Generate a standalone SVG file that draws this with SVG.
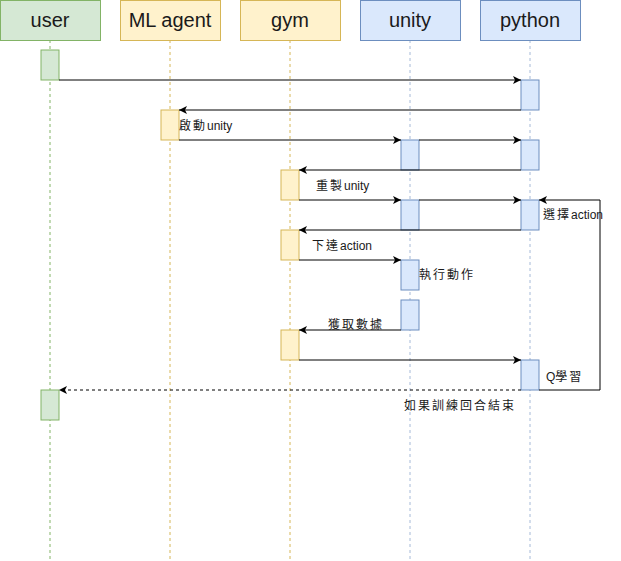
<svg xmlns="http://www.w3.org/2000/svg" width="621" height="561" viewBox="0 0 621 561">
<defs>
<marker id="ah" markerWidth="10" markerHeight="10" refX="8" refY="4" orient="auto" markerUnits="userSpaceOnUse">
<path d="M0,0 L8,4 L0,8 L2,4 Z" fill="#000"/>
</marker>
<style>
.hd{font-family:"Liberation Sans",Arial,sans-serif;font-size:20px;fill:#1a1a1a;text-anchor:middle}
.lb{font-family:"Liberation Sans","Noto Sans CJK TC",sans-serif;font-size:12px;fill:#1a1a1a}
.c{letter-spacing:2px}
.g{fill:#d5e8d4;stroke:#82b366}
.y{fill:#fff2cc;stroke:#d6b656}
.b{fill:#dae8fc;stroke:#6c8ebf}
.ll{fill:none;stroke-dasharray:3 3}
.ar{fill:none;stroke:#000;stroke-width:1;marker-end:url(#ah)}
</style>
</defs>
<rect width="621" height="561" fill="#fff"/>
<g id="user">
<line class="ll" x1="50" y1="40" x2="50" y2="560" stroke="#82b366"/>
<rect class="g" x="0.5" y="0.5" width="100" height="40"/>
<text class="hd" x="50" y="27">user</text>
<rect class="g" x="41" y="50" width="18" height="30"/>
<rect class="g" x="41" y="390" width="18" height="30"/>
</g>
<g id="mlagent">
<line class="ll" x1="170" y1="40" x2="170" y2="560" stroke="#d6b656"/>
<rect class="y" x="120.5" y="0.5" width="100" height="40"/>
<text class="hd" x="170" y="27">ML agent</text>
<rect class="y" x="161" y="110" width="18" height="30"/>
</g>
<g id="gym">
<line class="ll" x1="290" y1="40" x2="290" y2="560" stroke="#d6b656"/>
<rect class="y" x="240.5" y="0.5" width="100" height="40"/>
<text class="hd" x="290" y="27">gym</text>
<rect class="y" x="281" y="170" width="18" height="30"/>
<rect class="y" x="281" y="230" width="18" height="30"/>
<rect class="y" x="281" y="330" width="18" height="30"/>
</g>
<g id="unity">
<line class="ll" x1="410" y1="40" x2="410" y2="560" stroke="#6c8ebf" stroke-opacity="0.6"/>
<rect class="b" x="360.5" y="0.5" width="100" height="40"/>
<text class="hd" x="410" y="27">unity</text>
<rect class="b" x="401" y="140" width="18" height="30"/>
<rect class="b" x="401" y="200" width="18" height="30"/>
<rect class="b" x="401" y="260" width="18" height="30"/>
<rect class="b" x="401" y="300" width="18" height="30"/>
</g>
<g id="python">
<line class="ll" x1="530" y1="40" x2="530" y2="560" stroke="#6c8ebf" stroke-opacity="0.6"/>
<rect class="b" x="480.5" y="0.5" width="100" height="40"/>
<text class="hd" x="530" y="27">python</text>
<rect class="b" x="521" y="80" width="18" height="30"/>
<rect class="b" x="521" y="140" width="18" height="30"/>
<rect class="b" x="521" y="200" width="18" height="30"/>
<rect class="b" x="521" y="360" width="18" height="30"/>
</g>
<g id="connectors">
<path class="ar" d="M59,80 H521"/>
<path class="ar" d="M521,110 H179"/>
<path class="ar" d="M179,140 H401"/>
<path class="ar" d="M419,140 H521"/>
<path class="ar" d="M521,170 H299"/>
<path class="ar" d="M299,200 H401"/>
<path class="ar" d="M419,200 H521"/>
<path class="ar" d="M539,390 H600 V200 H539"/>
<path class="ar" d="M521,230 H299"/>
<path class="ar" d="M299,260 H401"/>
<path class="ar" d="M401,330 H299"/>
<path class="ar" d="M299,360 H521"/>
<path class="ar" d="M521,390 H59" stroke-dasharray="3 3"/>
<text class="lb" x="179" y="130"><tspan class="c">啟動</tspan>unity</text>
<text class="lb" x="316" y="190"><tspan class="c">重製</tspan>unity</text>
<text class="lb" x="543" y="219"><tspan class="c">選擇</tspan>action</text>
<text class="lb" x="312" y="250"><tspan class="c">下達</tspan>action</text>
<text class="lb c" x="419" y="279">執行動作</text>
<text class="lb c" x="328" y="329">獲取數據</text>
<text class="lb" x="546" y="381">Q<tspan class="c">學習</tspan></text>
<text class="lb c" x="404" y="410">如果訓練回合結束</text>
</g>
</svg>
